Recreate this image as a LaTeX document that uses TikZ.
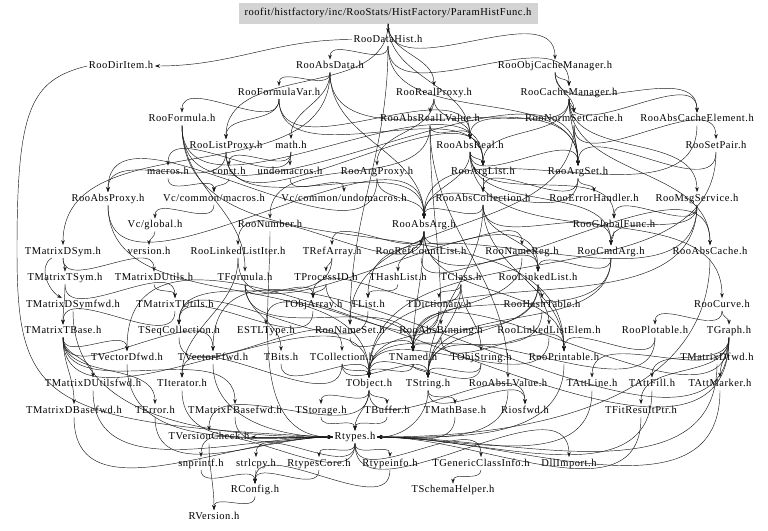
\documentclass[tikz,border=0pt]{standalone}
\usepackage{fontspec}
\setmainfont{Liberation Serif}[LetterSpace=5]
\usetikzlibrary{arrows.meta}
\definecolor{hdrgray}{RGB}{211,211,211}
\tikzset{
  hfile/.style={inner sep=1.5pt, text height=7.5pt, text depth=2pt, font=\fontsize{10.5}{12}\selectfont},
  hdr/.style={hfile, fill=hdrgray, minimum width=299pt, minimum height=21pt},
  dep/.style={->, draw=black!90, line width=.45pt, out=-90, in=90},
  lat/.style={->, draw=black!90, line width=.45pt, out=180, in=0},
}
\begin{document}
\begin{tikzpicture}[>={Stealth[length=5pt,width=3.6pt]}, x=1pt, y=1pt]
\useasboundingbox (0,0) rectangle (768,-530);

\node[hdr] (title) at (388,-13) {roofit/histfactory/inc/RooStats/HistFactory/ParamHistFunc.h};
\node[hfile] (datahist) at (388,-39.5) {RooDataHist.h};

\node[hfile] (diritem) at (121,-66) {RooDirItem.h};
\node[hfile] (absdata) at (330,-66) {RooAbsData.h};
\node[hfile] (objcache) at (555,-66) {RooObjCacheManager.h};

\node[hfile] (formvar) at (279,-92.5) {RooFormulaVar.h};
\node[hfile] (realproxy) at (434,-92.5) {RooRealProxy.h};
\node[hfile] (cachemgr) at (569,-92.5) {RooCacheManager.h};

\node[hfile] (formula) at (182,-119) {RooFormula.h};
\node[hfile] (realLV) at (430,-119) {RooAbsRealLValue.h};
\node[hfile] (normset) at (574,-119) {RooNormSetCache.h};
\node[hfile] (cacheelem) at (697,-119) {RooAbsCacheElement.h};

\node[hfile] (listproxy) at (226,-145.5) {RooListProxy.h};
\node[hfile] (math) at (291,-145.5) {math.h};
\node[hfile] (absreal) at (470,-145.5) {RooAbsReal.h};
\node[hfile] (setpair) at (716,-145.5) {RooSetPair.h};

\node[hfile] (macros) at (168,-172) {macros.h};
\node[hfile] (const) at (229,-172) {const.h};
\node[hfile] (undomac) at (290,-172) {undomacros.h};
\node[hfile] (argproxy) at (377,-172) {RooArgProxy.h};
\node[hfile] (arglist) at (483,-172) {RooArgList.h};
\node[hfile] (argset) at (578,-172) {RooArgSet.h};

\node[hfile] (absproxy) at (108,-198.5) {RooAbsProxy.h};
\node[hfile] (vcmacros) at (214,-198.5) {Vc/common/macros.h};
\node[hfile] (vcundo) at (344,-198.5) {Vc/common/undomacros.h};
\node[hfile] (abscoll) at (483,-198.5) {RooAbsCollection.h};
\node[hfile] (errh) at (594,-198.5) {RooErrorHandler.h};
\node[hfile] (msgsvc) at (697,-198.5) {RooMsgService.h};

\node[hfile] (vcglobal) at (155,-225) {Vc/global.h};
\node[hfile] (number) at (270,-225) {RooNumber.h};
\node[hfile] (absarg) at (424,-225) {RooAbsArg.h};
\node[hfile] (globfunc) at (614,-225) {RooGlobalFunc.h};

\node[hfile] (mdsym) at (63,-251.5) {TMatrixDSym.h};
\node[hfile] (version) at (149,-251.5) {version.h};
\node[hfile] (llIter) at (238,-251.5) {RooLinkedListIter.h};
\node[hfile] (refarray) at (332,-251.5) {TRefArray.h};
\node[hfile] (refcount) at (421,-251.5) {RooRefCountList.h};
\node[hfile] (namereg) at (522,-251.5) {RooNameReg.h};
\node[hfile] (cmdarg) at (611,-251.5) {RooCmdArg.h};
\node[hfile] (abscache) at (710,-251.5) {RooAbsCache.h};

\node[hfile] (mtsym) at (65,-278) {TMatrixTSym.h};
\node[hfile] (mdutils) at (154,-278) {TMatrixDUtils.h};
\node[hfile] (tformula) at (245,-278) {TFormula.h};
\node[hfile] (procid) at (326,-278) {TProcessID.h};
\node[hfile] (hashlist) at (398,-278) {THashList.h};
\node[hfile] (tclass) at (461,-278) {TClass.h};
\node[hfile] (linkedlist) at (538,-278) {RooLinkedList.h};

\node[hfile] (mdsymfwd) at (73,-304.5) {TMatrixDSymfwd.h};
\node[hfile] (mtutils) at (175,-304.5) {TMatrixTUtils.h};
\node[hfile] (objarray) at (313,-304.5) {TObjArray.h};
\node[hfile] (tlist) at (368,-304.5) {TList.h};
\node[hfile] (tdict) at (439,-304.5) {TDictionary.h};
\node[hfile] (hashtable) at (542,-304.5) {RooHashTable.h};
\node[hfile] (curve) at (722,-304.5) {RooCurve.h};

\node[hfile] (mtbase) at (63,-331) {TMatrixTBase.h};
\node[hfile] (seqcoll) at (179,-331) {TSeqCollection.h};
\node[hfile] (estl) at (266,-331) {ESTLType.h};
\node[hfile] (nameset) at (350,-331) {RooNameSet.h};
\node[hfile] (absbin) at (441,-331) {RooAbsBinning.h};
\node[hfile] (llelem) at (549,-331) {RooLinkedListElem.h};
\node[hfile] (plotable) at (655,-331) {RooPlotable.h};
\node[hfile] (tgraph) at (729,-331) {TGraph.h};

\node[hfile] (vdfwd) at (127,-357.5) {TVectorDfwd.h};
\node[hfile] (vffwd) at (213,-357.5) {TVectorFfwd.h};
\node[hfile] (tbits) at (281,-357.5) {TBits.h};
\node[hfile] (tcoll) at (342,-357.5) {TCollection.h};
\node[hfile] (tnamed) at (413,-357.5) {TNamed.h};
\node[hfile] (objstring) at (481,-357.5) {TObjString.h};
\node[hfile] (printable) at (564,-357.5) {RooPrintable.h};
\node[hfile] (mdfwd) at (717,-357.5) {TMatrixDfwd.h};

\node[hfile] (mdutilsfwd) at (93,-384) {TMatrixDUtilsfwd.h};
\node[hfile] (titer) at (182,-384) {TIterator.h};
\node[hfile] (tobject) at (369,-384) {TObject.h};
\node[hfile] (tstring) at (428,-384) {TString.h};
\node[hfile] (abslv) at (508,-384) {RooAbsLValue.h};
\node[hfile] (attline) at (592,-384) {TAttLine.h};
\node[hfile] (attfill) at (652,-384) {TAttFill.h};
\node[hfile] (attmarker) at (720,-384) {TAttMarker.h};

\node[hfile] (mdbasefwd) at (74,-410.5) {TMatrixDBasefwd.h};
\node[hfile] (terror) at (155,-410.5) {TError.h};
\node[hfile] (mfbasefwd) at (235,-410.5) {TMatrixFBasefwd.h};
\node[hfile] (tstorage) at (321,-410.5) {TStorage.h};
\node[hfile] (tbuffer) at (387,-410.5) {TBuffer.h};
\node[hfile] (mathbase) at (455,-410.5) {TMathBase.h};
\node[hfile] (riosfwd) at (525,-410.5) {Riosfwd.h};
\node[hfile] (fitres) at (641,-410.5) {TFitResultPtr.h};

\node[hfile] (vcheck) at (209,-437) {TVersionCheck.h};
\node[hfile] (rtypes) at (355,-437) {Rtypes.h};

\node[hfile] (snprintf) at (201,-463.5) {snprintf.h};
\node[hfile] (strlcpy) at (256,-463.5) {strlcpy.h};
\node[hfile] (rtcore) at (319,-463.5) {RtypesCore.h};
\node[hfile] (rtinfo) at (390,-463.5) {Rtypeinfo.h};
\node[hfile] (genclass) at (481,-463.5) {TGenericClassInfo.h};
\node[hfile] (dllimport) at (569,-463.5) {DllImport.h};

\node[hfile] (rconfig) at (255,-490) {RConfig.h};
\node[hfile] (schema) at (453,-490) {TSchemaHelper.h};

\node[hfile] (rversion) at (214,-516.5) {RVersion.h};

% include edges, top to bottom
\foreach \a/\b in {title/datahist, title/objcache, title/listproxy, title/realproxy, title/absreal,
  datahist/absdata, datahist/argset, datahist/cachemgr, datahist/nameset,
  absdata/formvar, absdata/math, absdata/argset, absdata/absarg, absdata/mdsym,
  formvar/formula, formvar/listproxy, formvar/absreal, formvar/arglist,
  realproxy/argproxy, realproxy/absreal, realproxy/realLV,
  objcache/cachemgr, objcache/normset, objcache/cacheelem,
  cachemgr/normset, cachemgr/cacheelem, cachemgr/absreal, cachemgr/arglist, cachemgr/argset, cachemgr/msgsvc, cachemgr/abscache,
  normset/setpair, normset/argset, normset/nameset, cacheelem/absarg,
  formula/printable, formula/arglist, formula/tformula, formula/argset,
  listproxy/absproxy, listproxy/arglist, listproxy/absarg,
  math/macros, math/const, math/undomac,
  macros/vcmacros, const/vcmacros, undomac/vcundo, vcmacros/vcglobal, vcglobal/version}
  \draw[dep] (\a) to (\b);

\foreach \a/\b in {absreal/absarg, absreal/cmdarg, absreal/curve, absreal/arglist, absreal/argset, absreal/globfunc,
  realLV/absreal, realLV/number, realLV/abslv, realLV/absbin,
  argproxy/absproxy, argproxy/absarg, setpair/argset, setpair/tobject,
  arglist/abscoll, argset/abscoll, argset/absarg, argset/errh,
  abscoll/absarg, abscoll/printable, abscoll/linkedlist, abscoll/cmdarg, abscoll/tstring,
  msgsvc/cmdarg, msgsvc/globfunc, msgsvc/tobject, msgsvc/tlist,
  absproxy/absarg, absproxy/tobject,
  absarg/tnamed, absarg/hashlist, absarg/refarray, absarg/printable, absarg/refcount, absarg/abscache, absarg/llIter, absarg/namereg,
  refcount/linkedlist, namereg/tnamed, cmdarg/tnamed, cmdarg/tstring, cmdarg/linkedlist, globfunc/cmdarg,
  llIter/titer, llIter/linkedlist, refarray/seqcoll, refarray/procid}
  \draw[dep] (\a) to (\b);

\foreach \a/\b in {tformula/tnamed, tformula/tbits, tformula/objarray, procid/tnamed, procid/objarray,
  hashlist/tlist, tclass/tdict, tclass/tstring, tclass/objarray, tclass/objstring,
  linkedlist/tobject, linkedlist/llelem, linkedlist/hashtable, linkedlist/tstring,
  tlist/seqcoll, objarray/seqcoll, tdict/tnamed, tdict/estl, hashtable/tobject,
  curve/tgraph, curve/plotable, seqcoll/tcoll, llelem/tobject, plotable/tstring, plotable/printable,
  tgraph/tnamed, tgraph/attline, tgraph/attfill, tgraph/attmarker, tgraph/vffwd, tgraph/vdfwd, tgraph/fitres,
  tcoll/tobject, tcoll/titer, tcoll/tstring, tnamed/tobject, tnamed/tstring, objstring/tobject, objstring/tstring,
  nameset/tnamed, absbin/tnamed, absbin/printable,
  tobject/tstorage, tobject/riosfwd, tobject/tbuffer, tobject/vcheck,
  tstring/riosfwd, tstring/mathbase, tbits/tobject,
  mdsym/mtsym, mdsym/mdutils, mtsym/mtbase, mtsym/mtutils, mdutils/mtutils, mtutils/mtbase,
  mtbase/tobject, mtbase/terror, mtbase/mdbasefwd, mtbase/mfbasefwd, mtbase/vffwd, mtbase/vdfwd, mtbase/mdutilsfwd,
  tobject/rtypes, tstorage/rtypes, tbuffer/rtypes,
  rtypes/snprintf, rtypes/strlcpy, rtypes/rtcore, rtypes/rtinfo, rtypes/genclass, rtypes/dllimport,
  snprintf/rconfig, strlcpy/rconfig, rtcore/rconfig, rtinfo/rconfig, rconfig/rversion, vcheck/rversion, genclass/schema}
  \draw[dep] (\a) to (\b);

% into Rtypes.h from the sides
\foreach \a in {terror, mdbasefwd, mfbasefwd, titer, vdfwd, vffwd, mdsymfwd, number, mdutilsfwd}
  \draw[dep, in=180] (\a) to (rtypes);
\foreach \a in {tstring, mathbase, abslv, attline, attfill, attmarker, fitres, mdfwd, abscache, printable}
  \draw[dep, in=0] (\a) to (rtypes);

\draw[lat] (datahist) to (diritem);
\draw[lat] (rtypes) to (vcheck);
\draw[dep, out=-150, in=150] (mdsym) to (mdsymfwd);
\draw[->, draw=black!90, line width=.45pt] (diritem.west) .. controls (30,-80) and (17,-110) .. (17,-250)
  .. controls (17,-400) and (40,-424) .. (rtypes.west);
\end{tikzpicture}
\end{document}
